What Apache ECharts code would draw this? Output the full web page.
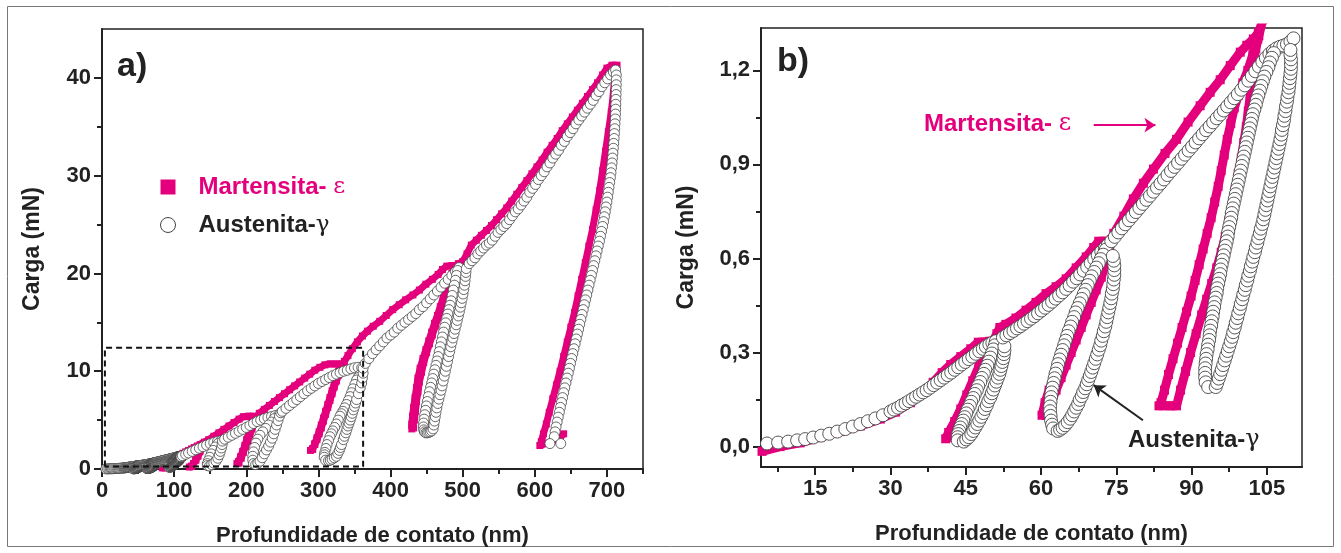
<!DOCTYPE html>
<html>
<head>
<meta charset="utf-8">
<script src="https://cdn.jsdelivr.net/npm/echarts@6/dist/echarts.min.js"></script>
<style>
html,body{margin:0;padding:0;background:#fff;}
#chart{width:1341px;height:553px;}
</style>
</head>
<body>
<div id="chart"></div>
<script>
// ---------------- DATA (depth nm, load mN) ----------------
// Austenite-γ, first three load/unload cycles (panel b range)
const austeniteCycles123 = [
  [5.4,0.010],[7.6,0.013],[9.6,0.016],[11.4,0.020],[13.0,0.024],[14.6,0.029],[16.2,0.035],[17.8,0.041],[19.4,0.048],[21.0,0.056],[22.5,0.064],[24.0,0.072],[25.5,0.081],[27.0,0.090],[28.5,0.100],
  [30.0,0.112],[30.7,0.118],[31.5,0.124],[32.2,0.131],[33.0,0.138],[33.7,0.145],[34.4,0.152],[35.1,0.159],[35.8,0.166],[36.5,0.173],[37.2,0.180],[37.9,0.188],[38.6,0.196],[39.3,0.204],[40.0,0.212],[40.7,0.220],[41.4,0.228],[42.1,0.236],[42.8,0.245],[43.5,0.253],[44.2,0.262],[44.9,0.270],[45.6,0.279],[46.3,0.287],[47.0,0.296],[47.7,0.304],[48.4,0.312],[49.0,0.319],[49.7,0.326],[50.3,0.331],[51.0,0.336],
  [50.8,0.323],[50.5,0.310],[50.2,0.297],[49.9,0.284],[49.6,0.271],[49.3,0.258],[48.9,0.245],[48.6,0.232],[48.2,0.219],[47.9,0.206],[47.5,0.193],[47.2,0.180],[46.8,0.168],[46.5,0.155],[46.1,0.143],[45.8,0.130],[45.4,0.118],[45.1,0.106],[44.8,0.094],[44.5,0.083],[44.2,0.072],[43.9,0.061],[43.7,0.050],[43.5,0.040],[43.4,0.030],[43.4,0.020],
  [44.6,0.016],[45.1,0.023],[45.6,0.030],[46.1,0.040],[46.5,0.050],[46.9,0.061],[47.3,0.072],[47.7,0.083],[48.1,0.095],[48.5,0.107],[48.8,0.120],[49.2,0.132],[49.5,0.145],[49.9,0.157],[50.2,0.170],[50.5,0.182],[50.8,0.195],[51.1,0.207],[51.4,0.220],[51.7,0.232],[51.9,0.245],[52.1,0.257],[52.3,0.270],[52.5,0.282],[52.6,0.295],[52.7,0.307],[52.7,0.320],
  [52.4,0.348],[53.1,0.355],[53.8,0.362],[54.5,0.369],[55.2,0.377],[55.9,0.384],[56.6,0.392],[57.3,0.400],[58.0,0.408],[58.7,0.416],[59.4,0.425],[60.1,0.434],[60.8,0.443],[61.5,0.452],[62.2,0.462],[62.9,0.472],[63.6,0.482],[64.3,0.492],[65.0,0.503],[65.7,0.514],[66.4,0.526],[67.1,0.537],[67.8,0.549],[68.5,0.561],[69.2,0.573],[69.9,0.585],[70.6,0.598],[71.3,0.610],[72.0,0.622],[72.7,0.633],[73.3,0.643],
  [72.9,0.628],[72.4,0.612],[71.9,0.598],[71.5,0.585],[71.0,0.571],[70.6,0.557],[70.1,0.543],[69.7,0.529],[69.3,0.515],[68.9,0.500],[68.5,0.486],[68.1,0.471],[67.7,0.457],[67.3,0.442],[66.9,0.428],[66.6,0.413],[66.2,0.398],[65.9,0.383],[65.5,0.368],[65.2,0.353],[64.9,0.338],[64.6,0.323],[64.3,0.308],[64.0,0.293],[63.7,0.278],[63.4,0.263],[63.2,0.248],[62.9,0.233],[62.7,0.218],[62.5,0.203],[62.3,0.188],[62.1,0.173],[62.0,0.158],[61.9,0.143],[61.8,0.128],[61.8,0.113],[61.9,0.098],[62.0,0.083],[62.2,0.070],[62.4,0.058],
  [63.3,0.050],[63.8,0.054],[64.3,0.060],[64.8,0.068],[65.3,0.078],[65.8,0.089],[66.2,0.100],[66.6,0.112],[67.0,0.124],[67.4,0.136],[67.7,0.149],[68.1,0.161],[68.4,0.174],[68.8,0.186],[69.1,0.199],[69.4,0.212],[69.7,0.225],[70.0,0.238],[70.3,0.252],[70.6,0.266],[70.9,0.280],[71.2,0.294],[71.5,0.309],[71.8,0.323],[72.0,0.338],[72.3,0.353],[72.5,0.368],[72.8,0.383],[73.0,0.398],[73.2,0.413],[73.4,0.428],[73.6,0.443],[73.8,0.458],[74.0,0.473],[74.1,0.488],[74.3,0.503],[74.4,0.518],[74.5,0.533],[74.6,0.548],[74.6,0.563],[74.6,0.578],[74.5,0.593],[74.3,0.608],
  [74.0,0.655],[74.7,0.669],[75.4,0.683],[76.1,0.696],[76.8,0.709],[77.5,0.722],[78.2,0.735],[78.9,0.748],[79.6,0.761],[80.3,0.774],[81.0,0.787],[81.7,0.800],[82.4,0.813],[83.1,0.826],[83.8,0.839],[84.5,0.852],[85.2,0.866],[85.9,0.879],[86.6,0.892],[87.3,0.905],[88.0,0.918],[88.7,0.931],[89.4,0.944],[90.1,0.957],[90.8,0.970],[91.5,0.983],[92.2,0.996],[92.9,1.009],[93.6,1.021],[94.3,1.034],[95.0,1.047],[95.7,1.059],[96.4,1.072],[97.1,1.085],[97.8,1.098],[98.5,1.111],[99.2,1.124],[99.9,1.138],[100.6,1.152],[101.3,1.167],[102.0,1.182],[102.7,1.197],[103.4,1.212],[104.1,1.227],[104.8,1.240],[105.5,1.252],[106.2,1.262],[106.9,1.270],[107.6,1.275],[108.3,1.279],[109.0,1.283],[109.7,1.292],[110.3,1.302],
  [106.4,1.255],[106.0,1.240],[105.6,1.225],[105.3,1.210],[104.9,1.195],[104.5,1.180],[104.2,1.165],[103.9,1.150],[103.6,1.135],[103.3,1.120],[103.0,1.105],[102.8,1.090],[102.5,1.075],[102.2,1.060],[102.0,1.045],[101.8,1.030],[101.6,1.015],[101.4,1.000],[101.2,0.985],[101.0,0.970],[100.8,0.955],[100.6,0.940],[100.4,0.925],[100.2,0.910],[100.0,0.895],[99.8,0.880],[99.6,0.865],[99.4,0.850],[99.2,0.835],[99.0,0.820],[98.8,0.805],[98.6,0.790],[98.4,0.775],[98.2,0.760],[98.0,0.745],[97.9,0.730],[97.7,0.715],[97.5,0.700],[97.3,0.685],[97.2,0.670],[97.0,0.655],[96.8,0.640],[96.6,0.625],[96.4,0.610],[96.2,0.595],[96.0,0.580],[95.8,0.565],[95.7,0.550],[95.5,0.535],[95.3,0.520],[95.1,0.505],[95.0,0.490],[94.8,0.475],[94.6,0.460],[94.5,0.445],[94.3,0.430],[94.2,0.415],[94.0,0.400],[93.9,0.385],[93.7,0.370],[93.6,0.355],[93.5,0.340],[93.3,0.325],[93.2,0.310],[93.0,0.295],[92.9,0.280],[92.8,0.265],[92.7,0.250],[92.7,0.235],[92.7,0.220],[92.8,0.205],[93.3,0.190],
  [94.8,0.190],[95.1,0.203],[95.4,0.217],[95.7,0.231],[96.0,0.245],[96.3,0.260],[96.6,0.275],[96.9,0.290],[97.2,0.305],[97.5,0.320],[97.8,0.335],[98.1,0.350],[98.3,0.365],[98.6,0.380],[98.8,0.395],[99.1,0.410],[99.3,0.425],[99.6,0.440],[99.8,0.455],[100.1,0.470],[100.3,0.485],[100.6,0.500],[100.8,0.515],[101.1,0.530],[101.3,0.545],[101.6,0.560],[101.8,0.575],[102.1,0.590],[102.3,0.605],[102.6,0.620],[102.8,0.635],[103.1,0.650],[103.3,0.665],[103.6,0.680],[103.8,0.695],[104.1,0.710],[104.3,0.725],[104.5,0.740],[104.7,0.755],[104.9,0.770],[105.1,0.785],[105.3,0.800],[105.5,0.815],[105.7,0.830],[105.9,0.845],[106.1,0.860],[106.3,0.875],[106.5,0.890],[106.7,0.905],[106.9,0.920],[107.1,0.935],[107.3,0.950],[107.5,0.965],[107.7,0.980],[107.9,0.995],[108.0,1.010],[108.2,1.025],[108.4,1.040],[108.5,1.055],[108.7,1.070],[108.8,1.085],[109.0,1.100],[109.1,1.115],[109.3,1.130],[109.4,1.145],[109.5,1.160],[109.6,1.175],[109.7,1.190],[109.8,1.205],[109.8,1.220],[109.8,1.235],[109.7,1.250],[109.7,1.265]
];
// Austenite-γ, cycles 4-8 (panel a range)
const austeniteCycles4to8 = [
  [111.5,1.36],[116,1.50],[120,1.64],[125,1.80],[130,1.96],[135,2.12],[140,2.28],[145,2.44],[150,2.58],[155,2.70],[160,2.80],[165,2.90],
  [161,2.60],[157,2.25],[154,1.90],[151.5,1.55],[149.5,1.20],[147.5,0.85],[146,0.55],[146,0.35],
  [149,0.30],[152,0.45],[155,0.60],[158,0.80],[160.5,1.10],[162.5,1.45],[164,1.80],[165.5,2.15],[166.5,2.50],[167,2.85],
  [170,3.05],[175,3.25],[180,3.45],[185,3.65],[190,3.85],[195,4.05],[200,4.25],[205,4.45],[210,4.65],[215,4.85],[220,5.00],[225,5.15],[230,5.27],[235,5.37],[240,5.46],[245,5.55],
  [239,5.15],[235,4.80],[231,4.50],[227,4.15],[223,3.80],[219,3.45],[216,3.05],[213.5,2.65],[211.5,2.20],[210,1.75],[209,1.30],[209,0.90],[210,0.55],
  [213,0.45],[216,0.60],[219,0.80],[222,1.15],[225,1.55],[228,1.95],[231,2.35],[233.5,2.75],[236,3.15],[238,3.60],[240,4.05],[242,4.50],[244,4.95],[246,5.40],[248,5.75],
  [250,5.90],[255,6.20],[260,6.50],[265,6.80],[270,7.10],[275,7.40],[280,7.70],[285,8.00],[290,8.25],[295,8.50],[300,8.75],[305,8.95],[310,9.15],[315,9.35],[320,9.55],[325,9.70],[330,9.85],[335,10.0],[340,10.1],[345,10.25],[350,10.35],[355,10.4],[360,10.35],
  [357,9.6],[355,9.35],[353,9.1],[350.5,8.65],[348,8.2],[346,7.8],[344,7.4],[341.5,7.0],[339,6.6],[336.5,6.25],[334,5.9],[332,5.65],[330,5.4],[327.5,5.0],[325,4.6],[322.5,4.25],[320,3.9],[318,3.6],[316,3.3],[314,2.9],[312,2.5],[310.5,2.1],[309,1.7],[308.5,1.45],[308,1.2],[310,0.9],
  [314,0.85],[316.5,0.9],[319,1.0],[322,1.15],[325,1.3],[327,1.6],[329,1.9],[330.5,2.2],[332,2.5],[334.5,3.0],[336,3.35],[338,3.7],[339.5,4.05],[341,4.4],[342.5,4.7],[344,5.0],[345.5,5.35],[347,5.7],[348.5,6.05],[350,6.4],[351.5,6.75],[353,7.1],[355.5,7.7],[358,8.3],[360,8.8],[361,9.3],[362,9.8],[362,10.3],
  [365,10.8],[370,11.3],[375,11.8],[380,12.2],[385,12.6],[390,13.0],[395,13.4],[400,13.7],[405,14.0],[410,14.4],[415,14.7],[420,15.0],[425,15.3],[430,15.6],[435,15.9],[440,16.3],[445,16.6],[450,17.0],[455,17.4],[460,17.8],[465,18.2],[470,18.6],[475,19.0],[480,19.4],[485,19.8],[490,20.2],[495,20.6],
  [493,20.3],[491.5,19.8],[490,19.3],[488.5,18.8],[487,18.3],[485.5,17.75],[484,17.2],[482.5,16.75],[481,16.3],[479.5,15.85],[478,15.4],[476.5,14.95],[475,14.5],[473.5,14.0],[472,13.5],[470.5,13.0],[469,12.5],[467.5,12.0],[466,11.5],[464.5,11.05],[463,10.6],[461.5,10.15],[460,9.7],[458.5,9.25],[457,8.8],[455.5,8.35],[454,7.9],[452.5,7.4],[451,6.9],[449.7,6.45],[448.5,6.0],[447.4,5.55],[446.5,5.1],[445.8,4.7],[445.5,4.3],[446,4.0],[447,3.8],
  [449,3.7],[451,3.7],[453,3.75],[455,3.8],[457,3.9],[459,4.1],[460,4.5],[461,4.9],[462,5.35],[463,5.8],[464.2,6.25],[465.5,6.7],[467,7.15],[468.5,7.6],[470,8.05],[471.5,8.5],[473,9.0],[474.5,9.5],[476,10.0],[477.5,10.5],[479,11.0],[480.5,11.5],[482,12.0],[483.5,12.5],[485,12.95],[486.5,13.4],[488,13.85],[489.5,14.3],[491,14.75],[492.5,15.2],[494,15.65],[495.5,16.1],[496.8,16.55],[498,17.0],[499.3,17.45],[500.5,17.9],[501.5,18.35],[502.5,18.8],[503.3,19.25],[504,19.7],[504.5,20.1],[505,20.5],
  [509,21.0],[513,21.3],[517,21.6],[521,22.0],[525,22.3],[529,22.6],[533,22.9],[537,23.1],[541,23.4],[545,23.8],[549,24.2],[553,24.5],[557,24.8],[561,25.1],[565,25.5],[569,25.9],[573,26.3],[577,26.6],[581,27.0],[585,27.4],[589,27.8],[593,28.3],[597,28.7],[601,29.1],[605,29.6],[609,30.0],[613,30.4],[617,30.9],[621,31.3],[625,31.8],[629,32.2],[633,32.6],[637,33.1],[641,33.5],[645,34.0],[649,34.4],[653,34.8],[657,35.3],[661,35.7],[665,36.1],[669,36.5],[673,36.9],[677,37.3],[681,37.7],[685,38.2],[689,38.6],[693,39.1],[697,39.5],[701,39.9],[705,40.3],[709,40.6],[712,40.8],
  [713,40.3],[713,39.8],[713,39.3],[712.8,38.8],[712.7,38.3],[712.5,37.8],[712.3,37.3],[712.1,36.8],[711.9,36.3],[711.6,35.8],[711.2,35.3],[710.8,34.8],[710.4,34.3],[710.0,33.8],[709.4,33.3],[708.9,32.8],[708.3,32.3],[707.7,31.8],[707.1,31.3],[706.3,30.8],[705.6,30.3],[704.8,29.8],[703.8,29.3],[702.9,28.8],[701.9,28.3],[700.9,27.8],[700.0,27.3],[698.8,26.8],[697.7,26.3],[696.5,25.8],[695.3,25.3],[694.0,24.8],[692.5,24.3],[691.1,23.8],[689.6,23.3],[688.0,22.8],[686.4,22.3],[684.9,21.8],[683.2,21.3],[681.6,20.8],[680.0,20.3],[678.4,19.8],[676.8,19.3],[675.2,18.8],[673.6,18.3],[672.0,17.8],[670.3,17.3],[668.7,16.8],[667.1,16.3],[665.5,15.8],[663.9,15.3],[662.3,14.8],[660.7,14.3],[659.1,13.8],[657.5,13.3],[655.9,12.8],[654.3,12.3],[652.7,11.8],[651.1,11.3],[649.5,10.8],[648.0,10.3],[646.4,9.8],[644.8,9.3],[643.2,8.8],[641.6,8.3],[640.0,7.8],[638.5,7.3],[637.0,6.8],[635.5,6.3],[634.0,5.8],[632.5,5.3],[631.0,4.8],[629.5,4.3],[628.2,3.8],[627.0,3.3],
  [621,2.6],[636,2.6]
];
// Martensite-ε, measured path, cycles 1-3 (continuous order)
const martensiteCycles123 = [
  [4.4,-0.015],[8,0.0],[12,0.012],[16,0.030],[20,0.048],[24,0.066],[28,0.088],[31,0.110],[34,0.140],[36.5,0.172],[38.5,0.205],[40.3,0.236],[42,0.262],[44,0.287],[46,0.312],[47.5,0.333],[49.8,0.336],
  [48.8,0.300],[47.6,0.255],[46.4,0.210],[45.2,0.165],[44.0,0.120],[42.8,0.080],[41.6,0.045],[41.0,0.025],
  [41.6,0.030],[42.9,0.070],[44.2,0.115],[45.5,0.160],[46.8,0.205],[48.0,0.250],[49.2,0.295],[50.4,0.335],[51.2,0.360],[51.8,0.380],
  [53,0.390],[55,0.410],[57,0.435],[59,0.460],[61,0.488],[63,0.510],[65,0.535],[67,0.570],[69,0.605],[70.5,0.635],[71.5,0.655],[73,0.655],
  [72.5,0.620],[71.5,0.580],[70.5,0.540],[69.5,0.500],[68.5,0.460],[67.5,0.420],[66.5,0.380],[65.5,0.340],[64.5,0.300],[63.5,0.260],[62.5,0.220],[61.6,0.180],[60.8,0.140],[60.2,0.100],
  [61,0.100],[62,0.140],[63,0.180],[64,0.220],[65,0.260],[66,0.300],[67,0.340],[68,0.380],[69,0.420],[70,0.460],[71,0.500],[72,0.540],[72.8,0.580],[73.5,0.620],[74,0.660],
  [74.5,0.680],[76.5,0.735],[78.4,0.790],[80.4,0.840],[82.4,0.885],[84.7,0.935],[87,0.980],[89.3,1.035],[91.7,1.087],[93.7,1.130],[95.7,1.170],[97.7,1.215],[99.7,1.258],[101,1.280],[102.3,1.300],[103.3,1.320],[104,1.350],
  [103.2,1.30],[102.2,1.25],[101.2,1.20],[100.2,1.16],[99.3,1.12],[98.5,1.08],[97.8,1.03],[97.1,0.98],[96.5,0.93],[95.9,0.88],[95.3,0.83],[94.6,0.78],[93.9,0.73],[93.1,0.68],[92.3,0.63],[91.5,0.58],[90.7,0.53],[89.9,0.48],[89.0,0.43],[88.1,0.38],[87.2,0.33],[86.3,0.28],[85.4,0.23],[84.6,0.18],[83.9,0.14],[83.5,0.13],
  [85.5,0.13],[87,0.13],[87.8,0.18],[88.8,0.24],[89.8,0.30],[90.9,0.36],[92.0,0.42],[93.0,0.47],[94.0,0.52],[95.0,0.57],[95.9,0.62],[96.7,0.67],[97.4,0.72],[98.1,0.77],[98.7,0.82],[99.3,0.87],[99.9,0.92],[100.4,0.97],[100.9,1.02],[101.3,1.07],[101.7,1.12],[102.0,1.17],[102.3,1.22],[102.8,1.27],[103.4,1.31],[104,1.35]
];
// Martensite-ε, cycles 4-8
const martensiteCycles4to8 = [
  [108,1.45],[112,1.60],[116,1.75],[120,1.90],[124,2.05],[128,2.20],[132,2.35],[136,2.50],[140,2.62],
  [138,2.20],[135.5,1.75],[133,1.30],[130,0.90],[127,0.55],[124,0.30],[121,0.20],
  [124,0.25],[127,0.55],[130,0.95],[133,1.40],[136,1.85],[139,2.30],[142,2.75],
  [148,3.00],[155,3.35],[162,3.70],[169,4.05],[176,4.40],[183,4.75],[190,5.10],[196,5.35],[203,5.40],[210,5.40],
  [208,4.80],[205.5,4.20],[203,3.60],[200.5,3.00],[198,2.40],[195,1.80],[192,1.25],[189,0.75],[187,0.55],
  [190,0.60],[193,1.10],[196,1.70],[199,2.30],[202,2.90],[205,3.50],[208,4.10],[211,4.70],[214,5.30],[218,5.70],
  [225,6.10],[232,6.50],[239,6.90],[246,7.30],[253,7.70],[260,8.10],[267,8.50],[274,8.90],[281,9.30],[288,9.70],[295,10.10],[302,10.40],[309,10.65],[316,10.75],[325,10.75],[334,10.75],
  [331,10.2],[328,9.6],[325,9.0],[322,8.4],[319,7.7],[316,7.0],[313,6.3],[310,5.6],[307,4.9],[304,4.2],[301,3.6],[298,3.0],[295,2.5],[292,2.1],[289,1.9],
  [292,2.0],[295,2.6],[298,3.2],[301,3.8],[304,4.5],[307,5.2],[310,5.9],[313,6.6],[316,7.3],[319,8.0],[322,8.7],[325,9.4],[328,10.0],[332,10.6],[336,11.0],[341,11.6],
  [347,12.3],[354,13.0],[361,13.6],[368,14.1],[376,14.6],[385,15.1],[394,15.7],[403,16.3],[412,16.8],[421,17.3],[431,17.8],[440,18.3],[449,18.9],[458,19.4],[466,19.9],[472,20.4],[478,20.75],[485,20.8],[490,20.8],
  [485,20.0],[481,19.2],[477,18.4],[473,17.5],[469,16.6],[465,15.7],[461,14.9],[457,14.0],[453,13.1],[449,12.2],[445,11.3],[441,10.3],[438,9.3],[436,8.3],[434,7.3],[432,6.3],[430.5,5.4],[429.5,4.6],[429.5,4.1],
  [432,4.2],[433,5.0],[434.5,5.9],[436,6.9],[438,7.9],[440,8.9],[443,9.9],[446,10.9],[450,11.9],[454,12.8],[458,13.7],[462,14.6],[466,15.5],[470,16.4],[474,17.3],[478,18.2],[482,19.1],[486,20.0],[490,20.8],[494,21.0],
  [500,21.2],[506,22.0],[512,22.9],[519,23.4],[526,23.9],[533,24.4],[540,24.9],[547,25.5],[554,26.1],[561,26.7],[568,27.4],[575,28.1],[582,28.8],[589,29.5],[596,30.2],[603,30.9],[610,31.6],[617,32.4],[624,33.1],[631,33.8],[638,34.6],[645,35.3],[652,36.0],[659,36.7],[666,37.4],[673,38.1],[680,38.8],[687,39.5],[694,40.3],[700,41.0],[707,41.3],[714,41.3],
  [711,40.5],[709,38.5],[706,36.5],[702,34.5],[698,32.5],[694,30.5],[690,28.5],[685,26.5],[680,24.5],[675,22.8],[670,21.1],[665,19.4],[660,17.7],[655,16.0],[650,14.5],[645,13.0],[640,11.5],[635,10.0],[630,8.6],[625,7.2],[620,5.8],[616,4.6],[612,3.6],[609,2.8],[607,2.4],
  [615,2.6],[625,2.9],[635,3.2],[640,3.6]
];
// dashed zoom box drawn on panel a (nm, mN)
const zoomBox = [[4,0.25],[4,12.4],[362,12.4],[362,0.25],[4,0.25]];

// ticks
const aXMajor = [0,100,200,300,400,500,600,700];
const aXMinor = [50,150,250,350,450,550,650,750];
const aYMajor = [0,10,20,30,40];
const aYMinor = [5,15,25,35];
const bXMajor = [15,30,45,60,75,90,105];
const bXMinor = [7.5,22.5,37.5,52.5,67.5,82.5,97.5];
const bYMajor = [0,0.3,0.6,0.9,1.2];
const bYMinor = [0.15,0.45,0.75,1.05];

// arrows in panel b (nm, mN)
const martArrow = [[70.5,1.025],[82.8,1.025]];
const austArrow = [[80.3,0.084],[70.5,0.196]];

// ---------------- CHART ----------------
const FONT = 'Liberation Sans, Arial, Helvetica, sans-serif';
const MAG = '#e4007c';
const INK = '#222';
const NAME_M = 'Martensita-ε';
const NAME_A = 'Austenita-γ';

const martAll = martensiteCycles123.concat(martensiteCycles4to8);
const austAll = austeniteCycles123.concat(austeniteCycles4to8);

function majorAxis(grid, min, max, ticks, pos, name, gap, nameSize, fmt) {
  return {
    type:'value', gridIndex:grid, min:min, max:max, position:pos,
    name:name, nameLocation:'middle', nameGap:gap,
    nameTextStyle:{fontFamily:FONT, fontSize:nameSize, fontWeight:'bold', color:INK},
    axisLine:{show:true, onZero:false, lineStyle:{color:INK, width:2}},
    axisTick:{show:true, length:8, customValues:ticks, lineStyle:{color:INK, width:2}},
    axisLabel:{show:true, customValues:ticks, fontFamily:FONT, fontSize:22, fontWeight:'bold', color:INK, margin:11, formatter:fmt},
    splitLine:{show:false}
  };
}
function minorAxis(grid, min, max, ticks, pos) {
  return {
    type:'value', gridIndex:grid, min:min, max:max, position:pos,
    axisLine:{show:false, onZero:false},
    axisTick:{show:true, length:5, customValues:ticks, lineStyle:{color:INK, width:2}},
    axisLabel:{show:false},
    splitLine:{show:false}
  };
}
const commaFmt = v => (Math.round(v*10)/10).toFixed(1).replace('.', ',');

const chart = echarts.init(document.getElementById('chart'), null, {renderer:'canvas'});
chart.setOption({
  animation:false,
  backgroundColor:'#fff',
  grid:[
    {left:102, top:29, width:541, height:440, show:true, borderColor:INK, borderWidth:1.5, backgroundColor:'transparent'},
    {left:761, top:28, width:541, height:439, show:true, borderColor:INK, borderWidth:1.5, backgroundColor:'transparent'}
  ],
  xAxis:[
    majorAxis(0, 0, 750, aXMajor, 'bottom', 'Profundidade de contato (nm)', 56, 22),
    minorAxis(0, 0, 750, aXMinor, 'bottom'),
    majorAxis(1, 4.2, 112, bXMajor, 'bottom', 'Profundidade de contato (nm)', 56, 22),
    minorAxis(1, 4.2, 112, bXMinor, 'bottom')
  ],
  yAxis:[
    majorAxis(0, 0, 45, aYMajor, 'left', 'Carga (mN)', 58, 23),
    minorAxis(0, 0, 45, aYMinor, 'left'),
    majorAxis(1, -0.065, 1.335, bYMajor, 'left', 'Carga (mN)', 63, 23, commaFmt),
    minorAxis(1, -0.065, 1.335, bYMinor, 'left')
  ],
  legend:{
    left:155, top:170, orient:'vertical', itemWidth:15, itemHeight:15, itemGap:14,
    selectedMode:false,
    textStyle:{fontFamily:FONT, fontSize:24, fontWeight:'bold', color:INK,
      rich:{s:{width:18}, g:{fontFamily:'DejaVu Serif, serif', fontWeight:'normal', fontSize:23}}},
    formatter: n => '{s|}' + n.slice(0, -1) + (n.indexOf('ε') >= 0 ? ' ' : '') + '{g|' + n.slice(-1) + '}',
    data:[
      {name:NAME_M, icon:'rect', itemStyle:{color:MAG}, textStyle:{color:MAG}},
      {name:NAME_A, icon:'circle', itemStyle:{color:'#fff', borderColor:'#444', borderWidth:1}, textStyle:{color:INK}}
    ]
  },
  series:[
    {name:NAME_M, type:'line', xAxisIndex:0, yAxisIndex:0, data:martAll, color:MAG,
     lineStyle:{color:MAG, width:7}, symbol:'rect', symbolSize:7, showAllSymbol:true,
     itemStyle:{color:MAG}, z:2, clip:true},
    {name:NAME_A, type:'scatter', xAxisIndex:0, yAxisIndex:0, data:austAll, symbol:'circle', symbolSize:10,
     itemStyle:{color:'#fff', borderColor:'#444', borderWidth:0.8, opacity:1}, z:3, clip:true},
    {name:'box', type:'line', xAxisIndex:0, yAxisIndex:0, data:zoomBox, symbol:'none',
     lineStyle:{color:'#111', width:2, type:[6,4]}, z:6, silent:true},
    {name:NAME_M, type:'line', xAxisIndex:2, yAxisIndex:2, data:martAll, color:MAG,
     lineStyle:{color:MAG, width:9}, symbol:'rect', symbolSize:9, showAllSymbol:true,
     itemStyle:{color:MAG}, z:2, clip:true},
    {name:NAME_A, type:'scatter', xAxisIndex:2, yAxisIndex:2, data:austAll, symbol:'circle', symbolSize:13,
     itemStyle:{color:'#fff', borderColor:'#444', borderWidth:0.9, opacity:1}, z:3, clip:true,
     markLine:{silent:true, symbol:['none','arrow'], symbolSize:11, label:{show:false},
       lineStyle:{width:2, type:'solid'},
       data:[
         [{coord:martArrow[0], lineStyle:{color:MAG, width:2, type:'solid'}, itemStyle:{color:MAG}}, {coord:martArrow[1], itemStyle:{color:MAG}}],
         [{coord:austArrow[0], lineStyle:{color:INK, width:2, type:'solid'}, itemStyle:{color:INK}}, {coord:austArrow[1], itemStyle:{color:INK}}]
       ]}}
  ],
  graphic:[
    {type:'rect', shape:{x:7.5, y:6.5, width:1326, height:540}, style:{fill:null, stroke:'#777', lineWidth:1}, silent:true},
    {type:'text', left:117, top:50, style:{text:'a)', font:'bold 34px ' + FONT, fill:INK}},
    {type:'text', left:777, top:45, style:{text:'b)', font:'bold 34px ' + FONT, fill:INK}},
    {type:'text', left:924, top:112, style:{text:'Martensita- {g|ε}', font:'bold 24px ' + FONT, fill:MAG,
      rich:{g:{fontFamily:'DejaVu Serif, serif', fontWeight:'normal', fontSize:24, fill:MAG}}}},
    {type:'text', left:1128, top:428, style:{text:'Austenita-{g|γ}', font:'bold 24px ' + FONT, fill:INK,
      rich:{g:{fontFamily:'DejaVu Serif, serif', fontWeight:'normal', fontSize:24, fill:INK}}}}
  ]
});
</script>
</body>
</html>
